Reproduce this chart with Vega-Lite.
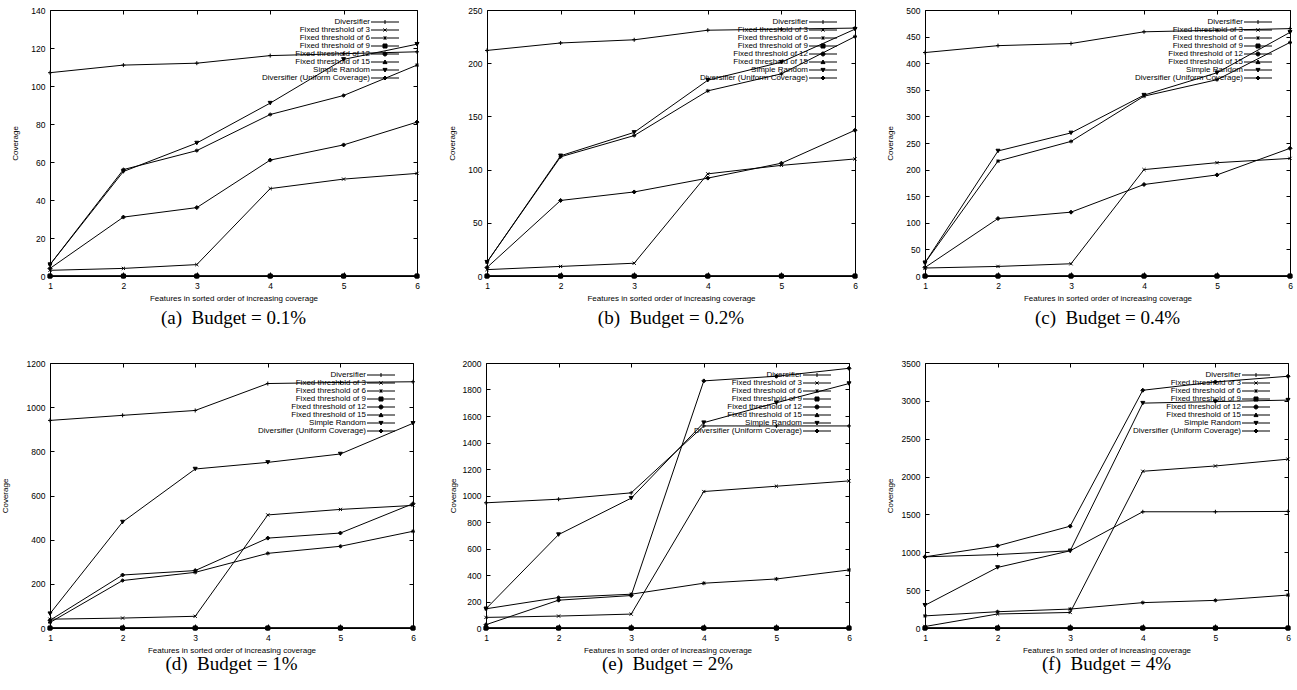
{
"$schema": "https://vega.github.io/schema/vega-lite/v6.json",
"padding": {"left": 0, "top": 5, "right": 0, "bottom": 0},
"background": "white",
"data": {"values": [
{"p":"a","s":"Diversifier","x":1,"y":107},{"p":"a","s":"Diversifier","x":2,"y":111},{"p":"a","s":"Diversifier","x":3,"y":112},{"p":"a","s":"Diversifier","x":4,"y":116},{"p":"a","s":"Diversifier","x":5,"y":117},{"p":"a","s":"Diversifier","x":6,"y":118},
{"p":"a","s":"Fixed threshold of 3","x":1,"y":3},{"p":"a","s":"Fixed threshold of 3","x":2,"y":4},{"p":"a","s":"Fixed threshold of 3","x":3,"y":6},{"p":"a","s":"Fixed threshold of 3","x":4,"y":46},{"p":"a","s":"Fixed threshold of 3","x":5,"y":51},{"p":"a","s":"Fixed threshold of 3","x":6,"y":54},
{"p":"a","s":"Fixed threshold of 6","x":1,"y":6},{"p":"a","s":"Fixed threshold of 6","x":2,"y":56},{"p":"a","s":"Fixed threshold of 6","x":3,"y":66},{"p":"a","s":"Fixed threshold of 6","x":4,"y":85},{"p":"a","s":"Fixed threshold of 6","x":5,"y":95},{"p":"a","s":"Fixed threshold of 6","x":6,"y":111},
{"p":"a","s":"Fixed threshold of 9","x":1,"y":0},{"p":"a","s":"Fixed threshold of 9","x":2,"y":0},{"p":"a","s":"Fixed threshold of 9","x":3,"y":0},{"p":"a","s":"Fixed threshold of 9","x":4,"y":0},{"p":"a","s":"Fixed threshold of 9","x":5,"y":0},{"p":"a","s":"Fixed threshold of 9","x":6,"y":0},
{"p":"a","s":"Fixed threshold of 12","x":1,"y":0},{"p":"a","s":"Fixed threshold of 12","x":2,"y":0},{"p":"a","s":"Fixed threshold of 12","x":3,"y":0},{"p":"a","s":"Fixed threshold of 12","x":4,"y":0},{"p":"a","s":"Fixed threshold of 12","x":5,"y":0},{"p":"a","s":"Fixed threshold of 12","x":6,"y":0},
{"p":"a","s":"Fixed threshold of 15","x":1,"y":0},{"p":"a","s":"Fixed threshold of 15","x":2,"y":0},{"p":"a","s":"Fixed threshold of 15","x":3,"y":0},{"p":"a","s":"Fixed threshold of 15","x":4,"y":0},{"p":"a","s":"Fixed threshold of 15","x":5,"y":0},{"p":"a","s":"Fixed threshold of 15","x":6,"y":0},
{"p":"a","s":"Simple Random","x":1,"y":6},{"p":"a","s":"Simple Random","x":2,"y":55},{"p":"a","s":"Simple Random","x":3,"y":70},{"p":"a","s":"Simple Random","x":4,"y":91},{"p":"a","s":"Simple Random","x":5,"y":114},{"p":"a","s":"Simple Random","x":6,"y":122},
{"p":"a","s":"Diversifier (Uniform Coverage)","x":1,"y":4},{"p":"a","s":"Diversifier (Uniform Coverage)","x":2,"y":31},{"p":"a","s":"Diversifier (Uniform Coverage)","x":3,"y":36},{"p":"a","s":"Diversifier (Uniform Coverage)","x":4,"y":61},{"p":"a","s":"Diversifier (Uniform Coverage)","x":5,"y":69},{"p":"a","s":"Diversifier (Uniform Coverage)","x":6,"y":81},

{"p":"b","s":"Diversifier","x":1,"y":212},{"p":"b","s":"Diversifier","x":2,"y":219},{"p":"b","s":"Diversifier","x":3,"y":222},{"p":"b","s":"Diversifier","x":4,"y":231},{"p":"b","s":"Diversifier","x":5,"y":232},{"p":"b","s":"Diversifier","x":6,"y":233},
{"p":"b","s":"Fixed threshold of 3","x":1,"y":6},{"p":"b","s":"Fixed threshold of 3","x":2,"y":9},{"p":"b","s":"Fixed threshold of 3","x":3,"y":12},{"p":"b","s":"Fixed threshold of 3","x":4,"y":96},{"p":"b","s":"Fixed threshold of 3","x":5,"y":104},{"p":"b","s":"Fixed threshold of 3","x":6,"y":110},
{"p":"b","s":"Fixed threshold of 6","x":1,"y":13},{"p":"b","s":"Fixed threshold of 6","x":2,"y":112},{"p":"b","s":"Fixed threshold of 6","x":3,"y":132},{"p":"b","s":"Fixed threshold of 6","x":4,"y":174},{"p":"b","s":"Fixed threshold of 6","x":5,"y":190},{"p":"b","s":"Fixed threshold of 6","x":6,"y":225},
{"p":"b","s":"Fixed threshold of 9","x":1,"y":0},{"p":"b","s":"Fixed threshold of 9","x":2,"y":0},{"p":"b","s":"Fixed threshold of 9","x":3,"y":0},{"p":"b","s":"Fixed threshold of 9","x":4,"y":0},{"p":"b","s":"Fixed threshold of 9","x":5,"y":0},{"p":"b","s":"Fixed threshold of 9","x":6,"y":0},
{"p":"b","s":"Fixed threshold of 12","x":1,"y":0},{"p":"b","s":"Fixed threshold of 12","x":2,"y":0},{"p":"b","s":"Fixed threshold of 12","x":3,"y":0},{"p":"b","s":"Fixed threshold of 12","x":4,"y":0},{"p":"b","s":"Fixed threshold of 12","x":5,"y":0},{"p":"b","s":"Fixed threshold of 12","x":6,"y":0},
{"p":"b","s":"Fixed threshold of 15","x":1,"y":0},{"p":"b","s":"Fixed threshold of 15","x":2,"y":0},{"p":"b","s":"Fixed threshold of 15","x":3,"y":0},{"p":"b","s":"Fixed threshold of 15","x":4,"y":0},{"p":"b","s":"Fixed threshold of 15","x":5,"y":0},{"p":"b","s":"Fixed threshold of 15","x":6,"y":0},
{"p":"b","s":"Simple Random","x":1,"y":13},{"p":"b","s":"Simple Random","x":2,"y":113},{"p":"b","s":"Simple Random","x":3,"y":135},{"p":"b","s":"Simple Random","x":4,"y":184},{"p":"b","s":"Simple Random","x":5,"y":201},{"p":"b","s":"Simple Random","x":6,"y":232},
{"p":"b","s":"Diversifier (Uniform Coverage)","x":1,"y":8},{"p":"b","s":"Diversifier (Uniform Coverage)","x":2,"y":71},{"p":"b","s":"Diversifier (Uniform Coverage)","x":3,"y":79},{"p":"b","s":"Diversifier (Uniform Coverage)","x":4,"y":92},{"p":"b","s":"Diversifier (Uniform Coverage)","x":5,"y":106},{"p":"b","s":"Diversifier (Uniform Coverage)","x":6,"y":137},

{"p":"c","s":"Diversifier","x":1,"y":420},{"p":"c","s":"Diversifier","x":2,"y":433},{"p":"c","s":"Diversifier","x":3,"y":437},{"p":"c","s":"Diversifier","x":4,"y":459},{"p":"c","s":"Diversifier","x":5,"y":462},{"p":"c","s":"Diversifier","x":6,"y":465},
{"p":"c","s":"Fixed threshold of 3","x":1,"y":15},{"p":"c","s":"Fixed threshold of 3","x":2,"y":18},{"p":"c","s":"Fixed threshold of 3","x":3,"y":23},{"p":"c","s":"Fixed threshold of 3","x":4,"y":200},{"p":"c","s":"Fixed threshold of 3","x":5,"y":213},{"p":"c","s":"Fixed threshold of 3","x":6,"y":221},
{"p":"c","s":"Fixed threshold of 6","x":1,"y":25},{"p":"c","s":"Fixed threshold of 6","x":2,"y":216},{"p":"c","s":"Fixed threshold of 6","x":3,"y":253},{"p":"c","s":"Fixed threshold of 6","x":4,"y":338},{"p":"c","s":"Fixed threshold of 6","x":5,"y":369},{"p":"c","s":"Fixed threshold of 6","x":6,"y":439},
{"p":"c","s":"Fixed threshold of 9","x":1,"y":0},{"p":"c","s":"Fixed threshold of 9","x":2,"y":0},{"p":"c","s":"Fixed threshold of 9","x":3,"y":0},{"p":"c","s":"Fixed threshold of 9","x":4,"y":0},{"p":"c","s":"Fixed threshold of 9","x":5,"y":0},{"p":"c","s":"Fixed threshold of 9","x":6,"y":0},
{"p":"c","s":"Fixed threshold of 12","x":1,"y":0},{"p":"c","s":"Fixed threshold of 12","x":2,"y":0},{"p":"c","s":"Fixed threshold of 12","x":3,"y":0},{"p":"c","s":"Fixed threshold of 12","x":4,"y":0},{"p":"c","s":"Fixed threshold of 12","x":5,"y":0},{"p":"c","s":"Fixed threshold of 12","x":6,"y":0},
{"p":"c","s":"Fixed threshold of 15","x":1,"y":0},{"p":"c","s":"Fixed threshold of 15","x":2,"y":0},{"p":"c","s":"Fixed threshold of 15","x":3,"y":0},{"p":"c","s":"Fixed threshold of 15","x":4,"y":0},{"p":"c","s":"Fixed threshold of 15","x":5,"y":0},{"p":"c","s":"Fixed threshold of 15","x":6,"y":0},
{"p":"c","s":"Simple Random","x":1,"y":25},{"p":"c","s":"Simple Random","x":2,"y":235},{"p":"c","s":"Simple Random","x":3,"y":269},{"p":"c","s":"Simple Random","x":4,"y":340},{"p":"c","s":"Simple Random","x":5,"y":382},{"p":"c","s":"Simple Random","x":6,"y":458},
{"p":"c","s":"Diversifier (Uniform Coverage)","x":1,"y":16},{"p":"c","s":"Diversifier (Uniform Coverage)","x":2,"y":108},{"p":"c","s":"Diversifier (Uniform Coverage)","x":3,"y":120},{"p":"c","s":"Diversifier (Uniform Coverage)","x":4,"y":172},{"p":"c","s":"Diversifier (Uniform Coverage)","x":5,"y":190},{"p":"c","s":"Diversifier (Uniform Coverage)","x":6,"y":240},

{"p":"d","s":"Diversifier","x":1,"y":940},{"p":"d","s":"Diversifier","x":2,"y":963},{"p":"d","s":"Diversifier","x":3,"y":985},{"p":"d","s":"Diversifier","x":4,"y":1107},{"p":"d","s":"Diversifier","x":5,"y":1112},{"p":"d","s":"Diversifier","x":6,"y":1115},
{"p":"d","s":"Fixed threshold of 3","x":1,"y":40},{"p":"d","s":"Fixed threshold of 3","x":2,"y":45},{"p":"d","s":"Fixed threshold of 3","x":3,"y":53},{"p":"d","s":"Fixed threshold of 3","x":4,"y":512},{"p":"d","s":"Fixed threshold of 3","x":5,"y":537},{"p":"d","s":"Fixed threshold of 3","x":6,"y":555},
{"p":"d","s":"Fixed threshold of 6","x":1,"y":25},{"p":"d","s":"Fixed threshold of 6","x":2,"y":215},{"p":"d","s":"Fixed threshold of 6","x":3,"y":252},{"p":"d","s":"Fixed threshold of 6","x":4,"y":338},{"p":"d","s":"Fixed threshold of 6","x":5,"y":370},{"p":"d","s":"Fixed threshold of 6","x":6,"y":438},
{"p":"d","s":"Fixed threshold of 9","x":1,"y":0},{"p":"d","s":"Fixed threshold of 9","x":2,"y":0},{"p":"d","s":"Fixed threshold of 9","x":3,"y":0},{"p":"d","s":"Fixed threshold of 9","x":4,"y":0},{"p":"d","s":"Fixed threshold of 9","x":5,"y":0},{"p":"d","s":"Fixed threshold of 9","x":6,"y":0},
{"p":"d","s":"Fixed threshold of 12","x":1,"y":0},{"p":"d","s":"Fixed threshold of 12","x":2,"y":0},{"p":"d","s":"Fixed threshold of 12","x":3,"y":0},{"p":"d","s":"Fixed threshold of 12","x":4,"y":0},{"p":"d","s":"Fixed threshold of 12","x":5,"y":0},{"p":"d","s":"Fixed threshold of 12","x":6,"y":0},
{"p":"d","s":"Fixed threshold of 15","x":1,"y":0},{"p":"d","s":"Fixed threshold of 15","x":2,"y":0},{"p":"d","s":"Fixed threshold of 15","x":3,"y":0},{"p":"d","s":"Fixed threshold of 15","x":4,"y":0},{"p":"d","s":"Fixed threshold of 15","x":5,"y":0},{"p":"d","s":"Fixed threshold of 15","x":6,"y":0},
{"p":"d","s":"Simple Random","x":1,"y":65},{"p":"d","s":"Simple Random","x":2,"y":480},{"p":"d","s":"Simple Random","x":3,"y":720},{"p":"d","s":"Simple Random","x":4,"y":750},{"p":"d","s":"Simple Random","x":5,"y":788},{"p":"d","s":"Simple Random","x":6,"y":927},
{"p":"d","s":"Diversifier (Uniform Coverage)","x":1,"y":35},{"p":"d","s":"Diversifier (Uniform Coverage)","x":2,"y":240},{"p":"d","s":"Diversifier (Uniform Coverage)","x":3,"y":260},{"p":"d","s":"Diversifier (Uniform Coverage)","x":4,"y":407},{"p":"d","s":"Diversifier (Uniform Coverage)","x":5,"y":430},{"p":"d","s":"Diversifier (Uniform Coverage)","x":6,"y":563},

{"p":"e","s":"Diversifier","x":1,"y":945},{"p":"e","s":"Diversifier","x":2,"y":972},{"p":"e","s":"Diversifier","x":3,"y":1020},{"p":"e","s":"Diversifier","x":4,"y":1525},{"p":"e","s":"Diversifier","x":5,"y":1525},{"p":"e","s":"Diversifier","x":6,"y":1525},
{"p":"e","s":"Fixed threshold of 3","x":1,"y":80},{"p":"e","s":"Fixed threshold of 3","x":2,"y":90},{"p":"e","s":"Fixed threshold of 3","x":3,"y":105},{"p":"e","s":"Fixed threshold of 3","x":4,"y":1030},{"p":"e","s":"Fixed threshold of 3","x":5,"y":1070},{"p":"e","s":"Fixed threshold of 3","x":6,"y":1110},
{"p":"e","s":"Fixed threshold of 6","x":1,"y":145},{"p":"e","s":"Fixed threshold of 6","x":2,"y":230},{"p":"e","s":"Fixed threshold of 6","x":3,"y":255},{"p":"e","s":"Fixed threshold of 6","x":4,"y":338},{"p":"e","s":"Fixed threshold of 6","x":5,"y":370},{"p":"e","s":"Fixed threshold of 6","x":6,"y":438},
{"p":"e","s":"Fixed threshold of 9","x":1,"y":0},{"p":"e","s":"Fixed threshold of 9","x":2,"y":0},{"p":"e","s":"Fixed threshold of 9","x":3,"y":0},{"p":"e","s":"Fixed threshold of 9","x":4,"y":0},{"p":"e","s":"Fixed threshold of 9","x":5,"y":0},{"p":"e","s":"Fixed threshold of 9","x":6,"y":0},
{"p":"e","s":"Fixed threshold of 12","x":1,"y":0},{"p":"e","s":"Fixed threshold of 12","x":2,"y":0},{"p":"e","s":"Fixed threshold of 12","x":3,"y":0},{"p":"e","s":"Fixed threshold of 12","x":4,"y":0},{"p":"e","s":"Fixed threshold of 12","x":5,"y":0},{"p":"e","s":"Fixed threshold of 12","x":6,"y":0},
{"p":"e","s":"Fixed threshold of 15","x":1,"y":0},{"p":"e","s":"Fixed threshold of 15","x":2,"y":0},{"p":"e","s":"Fixed threshold of 15","x":3,"y":0},{"p":"e","s":"Fixed threshold of 15","x":4,"y":0},{"p":"e","s":"Fixed threshold of 15","x":5,"y":0},{"p":"e","s":"Fixed threshold of 15","x":6,"y":0},
{"p":"e","s":"Simple Random","x":1,"y":145},{"p":"e","s":"Simple Random","x":2,"y":705},{"p":"e","s":"Simple Random","x":3,"y":980},{"p":"e","s":"Simple Random","x":4,"y":1550},{"p":"e","s":"Simple Random","x":5,"y":1700},{"p":"e","s":"Simple Random","x":6,"y":1845},
{"p":"e","s":"Diversifier (Uniform Coverage)","x":1,"y":25},{"p":"e","s":"Diversifier (Uniform Coverage)","x":2,"y":210},{"p":"e","s":"Diversifier (Uniform Coverage)","x":3,"y":245},{"p":"e","s":"Diversifier (Uniform Coverage)","x":4,"y":1865},{"p":"e","s":"Diversifier (Uniform Coverage)","x":5,"y":1900},{"p":"e","s":"Diversifier (Uniform Coverage)","x":6,"y":1960},

{"p":"f","s":"Diversifier","x":1,"y":940},{"p":"f","s":"Diversifier","x":2,"y":970},{"p":"f","s":"Diversifier","x":3,"y":1020},{"p":"f","s":"Diversifier","x":4,"y":1535},{"p":"f","s":"Diversifier","x":5,"y":1535},{"p":"f","s":"Diversifier","x":6,"y":1540},
{"p":"f","s":"Fixed threshold of 3","x":1,"y":20},{"p":"f","s":"Fixed threshold of 3","x":2,"y":185},{"p":"f","s":"Fixed threshold of 3","x":3,"y":205},{"p":"f","s":"Fixed threshold of 3","x":4,"y":2070},{"p":"f","s":"Fixed threshold of 3","x":5,"y":2140},{"p":"f","s":"Fixed threshold of 3","x":6,"y":2230},
{"p":"f","s":"Fixed threshold of 6","x":1,"y":160},{"p":"f","s":"Fixed threshold of 6","x":2,"y":215},{"p":"f","s":"Fixed threshold of 6","x":3,"y":250},{"p":"f","s":"Fixed threshold of 6","x":4,"y":335},{"p":"f","s":"Fixed threshold of 6","x":5,"y":365},{"p":"f","s":"Fixed threshold of 6","x":6,"y":435},
{"p":"f","s":"Fixed threshold of 9","x":1,"y":0},{"p":"f","s":"Fixed threshold of 9","x":2,"y":0},{"p":"f","s":"Fixed threshold of 9","x":3,"y":0},{"p":"f","s":"Fixed threshold of 9","x":4,"y":0},{"p":"f","s":"Fixed threshold of 9","x":5,"y":0},{"p":"f","s":"Fixed threshold of 9","x":6,"y":0},
{"p":"f","s":"Fixed threshold of 12","x":1,"y":0},{"p":"f","s":"Fixed threshold of 12","x":2,"y":0},{"p":"f","s":"Fixed threshold of 12","x":3,"y":0},{"p":"f","s":"Fixed threshold of 12","x":4,"y":0},{"p":"f","s":"Fixed threshold of 12","x":5,"y":0},{"p":"f","s":"Fixed threshold of 12","x":6,"y":0},
{"p":"f","s":"Fixed threshold of 15","x":1,"y":0},{"p":"f","s":"Fixed threshold of 15","x":2,"y":0},{"p":"f","s":"Fixed threshold of 15","x":3,"y":0},{"p":"f","s":"Fixed threshold of 15","x":4,"y":0},{"p":"f","s":"Fixed threshold of 15","x":5,"y":0},{"p":"f","s":"Fixed threshold of 15","x":6,"y":0},
{"p":"f","s":"Simple Random","x":1,"y":300},{"p":"f","s":"Simple Random","x":2,"y":800},{"p":"f","s":"Simple Random","x":3,"y":1020},{"p":"f","s":"Simple Random","x":4,"y":2970},{"p":"f","s":"Simple Random","x":5,"y":2990},{"p":"f","s":"Simple Random","x":6,"y":3010},
{"p":"f","s":"Diversifier (Uniform Coverage)","x":1,"y":940},{"p":"f","s":"Diversifier (Uniform Coverage)","x":2,"y":1085},{"p":"f","s":"Diversifier (Uniform Coverage)","x":3,"y":1345},{"p":"f","s":"Diversifier (Uniform Coverage)","x":4,"y":3140},{"p":"f","s":"Diversifier (Uniform Coverage)","x":5,"y":3250},{"p":"f","s":"Diversifier (Uniform Coverage)","x":6,"y":3325}
]},
"columns": 3,
"align": "none",
"spacing": {"row": 30, "column": 26},
"resolve": {"scale": {"shape": "independent"}, "legend": {"shape": "independent"}},
"concat": [
{"width": 367, "height": 266,
 "title": {"text": "(a)\u00a0\u00a0Budget\u00a0=\u00a00.1%"},
 "transform": [{"filter": "datum.p === 'a'"}],
 "layer": [
  {"mark": {"type": "line", "color": "black", "strokeWidth": 1},
   "encoding": {
    "x": {"field": "x", "type": "quantitative", "scale": {"domain": [1, 6], "nice": false, "zero": false}, "axis": {"orient": "bottom", "values": [1,2,3,4,5,6], "format": "d", "title": "Features in sorted order of increasing coverage"}},
    "y": {"field": "y", "type": "quantitative", "scale": {"domain": [0, 140], "nice": false}, "axis": {"orient": "left", "format": "d", "values": [0,20,40,60,80,100,120,140], "title": "Coverage"}},
    "detail": {"field": "s"}}},
  {"mark": {"type": "point", "filled": true, "color": "black", "stroke": "black", "strokeWidth": 1, "size": 16, "opacity": 1,
    "shape": {"expr": "datum.s === 'Diversifier' ? 'M-1,0L1,0M0,-1L0,1' : datum.s === 'Fixed threshold of 3' ? 'M-0.8,-0.8L0.8,0.8M-0.8,0.8L0.8,-0.8' : datum.s === 'Fixed threshold of 6' ? 'M-1,0L1,0M0,-1L0,1M-0.7,-0.7L0.7,0.7M-0.7,0.7L0.7,-0.7' : datum.s === 'Fixed threshold of 9' ? 'square' : datum.s === 'Fixed threshold of 12' ? 'circle' : datum.s === 'Fixed threshold of 15' ? 'triangle-up' : datum.s === 'Simple Random' ? 'triangle-down' : 'diamond'"}},
   "encoding": {
    "x": {"field": "x", "type": "quantitative", "axis": {"orient": "top", "values": [1,2,3,4,5,6], "labels": false, "title": null}},
    "y": {"field": "y", "type": "quantitative", "axis": {"orient": "right", "values": [0,20,40,60,80,100,120,140], "labels": false, "title": null}}}},
  {"transform": [{"filter": "datum.x > 100"}],
   "mark": {"type": "point", "filled": false, "fill": "black", "color": "black", "stroke": "black", "strokeWidth": 1, "size": 16, "opacity": 1},
   "encoding": {
    "x": {"field": "x", "type": "quantitative", "axis": null},
    "y": {"field": "y", "type": "quantitative", "axis": null},
    "shape": {"field": "s", "type": "nominal",
     "legend": {"title": null, "encode": {"symbols": {"stroke": {"value": "black"}, "fill": {"value": "black"}, "strokeWidth": {"value": 1}, "opacity": {"value": 1}}}},
     "scale": {"domain": ["Diversifier","Fixed threshold of 3","Fixed threshold of 6","Fixed threshold of 9","Fixed threshold of 12","Fixed threshold of 15","Simple Random","Diversifier (Uniform Coverage)"],
               "range": ["M-19,0L-5,0M-12,-1L-12,1","M-19,0L-5,0M-12.8,-0.8L-11.2,0.8M-12.8,0.8L-11.2,-0.8","M-19,0L-5,0M-12,-1L-12,1M-12.7,-0.7L-11.3,0.7M-12.7,0.7L-11.3,-0.7","M-19,0L-5,0M-13,-1L-11,-1L-11,1L-13,1Z","M-19,0L-5,0M-13,0A1,1,0,1,1,-11,0A1,1,0,1,1,-13,0Z","M-19,0L-5,0M-12,-1L-11,0.8L-13,0.8Z","M-19,0L-5,0M-12,1L-11,-0.8L-13,-0.8Z","M-19,0L-5,0M-12,-1L-11,0L-12,1L-13,0Z"]}}}}
 ],
 "resolve": {"axis": {"x": "independent", "y": "independent"}}
},
{"width": 368, "height": 266,
 "title": {"text": "(b)\u00a0\u00a0Budget\u00a0=\u00a00.2%"},
 "transform": [{"filter": "datum.p === 'b'"}],
 "layer": [
  {"mark": {"type": "line", "color": "black", "strokeWidth": 1},
   "encoding": {
    "x": {"field": "x", "type": "quantitative", "scale": {"domain": [1, 6], "nice": false, "zero": false}, "axis": {"orient": "bottom", "values": [1,2,3,4,5,6], "format": "d", "title": "Features in sorted order of increasing coverage"}},
    "y": {"field": "y", "type": "quantitative", "scale": {"domain": [0, 250], "nice": false}, "axis": {"orient": "left", "format": "d", "values": [0,50,100,150,200,250], "title": "Coverage"}},
    "detail": {"field": "s"}}},
  {"mark": {"type": "point", "filled": true, "color": "black", "stroke": "black", "strokeWidth": 1, "size": 16, "opacity": 1,
    "shape": {"expr": "datum.s === 'Diversifier' ? 'M-1,0L1,0M0,-1L0,1' : datum.s === 'Fixed threshold of 3' ? 'M-0.8,-0.8L0.8,0.8M-0.8,0.8L0.8,-0.8' : datum.s === 'Fixed threshold of 6' ? 'M-1,0L1,0M0,-1L0,1M-0.7,-0.7L0.7,0.7M-0.7,0.7L0.7,-0.7' : datum.s === 'Fixed threshold of 9' ? 'square' : datum.s === 'Fixed threshold of 12' ? 'circle' : datum.s === 'Fixed threshold of 15' ? 'triangle-up' : datum.s === 'Simple Random' ? 'triangle-down' : 'diamond'"}},
   "encoding": {
    "x": {"field": "x", "type": "quantitative", "axis": {"orient": "top", "values": [1,2,3,4,5,6], "labels": false, "title": null}},
    "y": {"field": "y", "type": "quantitative", "axis": {"orient": "right", "values": [0,50,100,150,200,250], "labels": false, "title": null}}}},
  {"transform": [{"filter": "datum.x > 100"}],
   "mark": {"type": "point", "filled": false, "fill": "black", "color": "black", "stroke": "black", "strokeWidth": 1, "size": 16, "opacity": 1},
   "encoding": {
    "x": {"field": "x", "type": "quantitative", "axis": null},
    "y": {"field": "y", "type": "quantitative", "axis": null},
    "shape": {"field": "s", "type": "nominal",
     "legend": {"title": null, "encode": {"symbols": {"stroke": {"value": "black"}, "fill": {"value": "black"}, "strokeWidth": {"value": 1}, "opacity": {"value": 1}}}},
     "scale": {"domain": ["Diversifier","Fixed threshold of 3","Fixed threshold of 6","Fixed threshold of 9","Fixed threshold of 12","Fixed threshold of 15","Simple Random","Diversifier (Uniform Coverage)"],
               "range": ["M-19,0L-5,0M-12,-1L-12,1","M-19,0L-5,0M-12.8,-0.8L-11.2,0.8M-12.8,0.8L-11.2,-0.8","M-19,0L-5,0M-12,-1L-12,1M-12.7,-0.7L-11.3,0.7M-12.7,0.7L-11.3,-0.7","M-19,0L-5,0M-13,-1L-11,-1L-11,1L-13,1Z","M-19,0L-5,0M-13,0A1,1,0,1,1,-11,0A1,1,0,1,1,-13,0Z","M-19,0L-5,0M-12,-1L-11,0.8L-13,0.8Z","M-19,0L-5,0M-12,1L-11,-0.8L-13,-0.8Z","M-19,0L-5,0M-12,-1L-11,0L-12,1L-13,0Z"]}}}}
 ],
 "resolve": {"axis": {"x": "independent", "y": "independent"}}
},
{"width": 365, "height": 266,
 "title": {"text": "(c)\u00a0\u00a0Budget\u00a0=\u00a00.4%"},
 "transform": [{"filter": "datum.p === 'c'"}],
 "layer": [
  {"mark": {"type": "line", "color": "black", "strokeWidth": 1},
   "encoding": {
    "x": {"field": "x", "type": "quantitative", "scale": {"domain": [1, 6], "nice": false, "zero": false}, "axis": {"orient": "bottom", "values": [1,2,3,4,5,6], "format": "d", "title": "Features in sorted order of increasing coverage"}},
    "y": {"field": "y", "type": "quantitative", "scale": {"domain": [0, 500], "nice": false}, "axis": {"orient": "left", "format": "d", "values": [0,50,100,150,200,250,300,350,400,450,500], "title": "Coverage"}},
    "detail": {"field": "s"}}},
  {"mark": {"type": "point", "filled": true, "color": "black", "stroke": "black", "strokeWidth": 1, "size": 16, "opacity": 1,
    "shape": {"expr": "datum.s === 'Diversifier' ? 'M-1,0L1,0M0,-1L0,1' : datum.s === 'Fixed threshold of 3' ? 'M-0.8,-0.8L0.8,0.8M-0.8,0.8L0.8,-0.8' : datum.s === 'Fixed threshold of 6' ? 'M-1,0L1,0M0,-1L0,1M-0.7,-0.7L0.7,0.7M-0.7,0.7L0.7,-0.7' : datum.s === 'Fixed threshold of 9' ? 'square' : datum.s === 'Fixed threshold of 12' ? 'circle' : datum.s === 'Fixed threshold of 15' ? 'triangle-up' : datum.s === 'Simple Random' ? 'triangle-down' : 'diamond'"}},
   "encoding": {
    "x": {"field": "x", "type": "quantitative", "axis": {"orient": "top", "values": [1,2,3,4,5,6], "labels": false, "title": null}},
    "y": {"field": "y", "type": "quantitative", "axis": {"orient": "right", "values": [0,50,100,150,200,250,300,350,400,450,500], "labels": false, "title": null}}}},
  {"transform": [{"filter": "datum.x > 100"}],
   "mark": {"type": "point", "filled": false, "fill": "black", "color": "black", "stroke": "black", "strokeWidth": 1, "size": 16, "opacity": 1},
   "encoding": {
    "x": {"field": "x", "type": "quantitative", "axis": null},
    "y": {"field": "y", "type": "quantitative", "axis": null},
    "shape": {"field": "s", "type": "nominal",
     "legend": {"title": null, "encode": {"symbols": {"stroke": {"value": "black"}, "fill": {"value": "black"}, "strokeWidth": {"value": 1}, "opacity": {"value": 1}}}},
     "scale": {"domain": ["Diversifier","Fixed threshold of 3","Fixed threshold of 6","Fixed threshold of 9","Fixed threshold of 12","Fixed threshold of 15","Simple Random","Diversifier (Uniform Coverage)"],
               "range": ["M-19,0L-5,0M-12,-1L-12,1","M-19,0L-5,0M-12.8,-0.8L-11.2,0.8M-12.8,0.8L-11.2,-0.8","M-19,0L-5,0M-12,-1L-12,1M-12.7,-0.7L-11.3,0.7M-12.7,0.7L-11.3,-0.7","M-19,0L-5,0M-13,-1L-11,-1L-11,1L-13,1Z","M-19,0L-5,0M-13,0A1,1,0,1,1,-11,0A1,1,0,1,1,-13,0Z","M-19,0L-5,0M-12,-1L-11,0.8L-13,0.8Z","M-19,0L-5,0M-12,1L-11,-0.8L-13,-0.8Z","M-19,0L-5,0M-12,-1L-11,0L-12,1L-13,0Z"]}}}}
 ],
 "resolve": {"axis": {"x": "independent", "y": "independent"}}
},
{"width": 363, "height": 265,
 "title": {"text": "(d)\u00a0\u00a0Budget\u00a0=\u00a01%", "offset": 0},
 "transform": [{"filter": "datum.p === 'd'"}],
 "layer": [
  {"mark": {"type": "line", "color": "black", "strokeWidth": 1},
   "encoding": {
    "x": {"field": "x", "type": "quantitative", "scale": {"domain": [1, 6], "nice": false, "zero": false}, "axis": {"orient": "bottom", "values": [1,2,3,4,5,6], "format": "d", "title": "Features in sorted order of increasing coverage"}},
    "y": {"field": "y", "type": "quantitative", "scale": {"domain": [0, 1200], "nice": false}, "axis": {"orient": "left", "format": "d", "values": [0,200,400,600,800,1000,1200], "title": "Coverage", "titlePadding": 17}},
    "detail": {"field": "s"}}},
  {"mark": {"type": "point", "filled": true, "color": "black", "stroke": "black", "strokeWidth": 1, "size": 16, "opacity": 1,
    "shape": {"expr": "datum.s === 'Diversifier' ? 'M-1,0L1,0M0,-1L0,1' : datum.s === 'Fixed threshold of 3' ? 'M-0.8,-0.8L0.8,0.8M-0.8,0.8L0.8,-0.8' : datum.s === 'Fixed threshold of 6' ? 'M-1,0L1,0M0,-1L0,1M-0.7,-0.7L0.7,0.7M-0.7,0.7L0.7,-0.7' : datum.s === 'Fixed threshold of 9' ? 'square' : datum.s === 'Fixed threshold of 12' ? 'circle' : datum.s === 'Fixed threshold of 15' ? 'triangle-up' : datum.s === 'Simple Random' ? 'triangle-down' : 'diamond'"}},
   "encoding": {
    "x": {"field": "x", "type": "quantitative", "axis": {"orient": "top", "values": [1,2,3,4,5,6], "labels": false, "title": null}},
    "y": {"field": "y", "type": "quantitative", "axis": {"orient": "right", "values": [0,200,400,600,800,1000,1200], "labels": false, "title": null}}}},
  {"transform": [{"filter": "datum.x > 100"}],
   "mark": {"type": "point", "filled": false, "fill": "black", "color": "black", "stroke": "black", "strokeWidth": 1, "size": 16, "opacity": 1},
   "encoding": {
    "x": {"field": "x", "type": "quantitative", "axis": null},
    "y": {"field": "y", "type": "quantitative", "axis": null},
    "shape": {"field": "s", "type": "nominal",
     "legend": {"title": null, "encode": {"symbols": {"stroke": {"value": "black"}, "fill": {"value": "black"}, "strokeWidth": {"value": 1}, "opacity": {"value": 1}}}},
     "scale": {"domain": ["Diversifier","Fixed threshold of 3","Fixed threshold of 6","Fixed threshold of 9","Fixed threshold of 12","Fixed threshold of 15","Simple Random","Diversifier (Uniform Coverage)"],
               "range": ["M-19,0L-5,0M-12,-1L-12,1","M-19,0L-5,0M-12.8,-0.8L-11.2,0.8M-12.8,0.8L-11.2,-0.8","M-19,0L-5,0M-12,-1L-12,1M-12.7,-0.7L-11.3,0.7M-12.7,0.7L-11.3,-0.7","M-19,0L-5,0M-13,-1L-11,-1L-11,1L-13,1Z","M-19,0L-5,0M-13,0A1,1,0,1,1,-11,0A1,1,0,1,1,-13,0Z","M-19,0L-5,0M-12,-1L-11,0.8L-13,0.8Z","M-19,0L-5,0M-12,1L-11,-0.8L-13,-0.8Z","M-19,0L-5,0M-12,-1L-11,0L-12,1L-13,0Z"]}}}}
 ],
 "resolve": {"axis": {"x": "independent", "y": "independent"}}
},
{"width": 363, "height": 265,
 "title": {"text": "(e)\u00a0\u00a0Budget\u00a0=\u00a02%", "offset": 0},
 "transform": [{"filter": "datum.p === 'e'"}],
 "layer": [
  {"mark": {"type": "line", "color": "black", "strokeWidth": 1},
   "encoding": {
    "x": {"field": "x", "type": "quantitative", "scale": {"domain": [1, 6], "nice": false, "zero": false}, "axis": {"orient": "bottom", "values": [1,2,3,4,5,6], "format": "d", "title": "Features in sorted order of increasing coverage"}},
    "y": {"field": "y", "type": "quantitative", "scale": {"domain": [0, 2000], "nice": false}, "axis": {"orient": "left", "format": "d", "values": [0,200,400,600,800,1000,1200,1400,1600,1800,2000], "title": "Coverage", "titlePadding": 5}},
    "detail": {"field": "s"}}},
  {"mark": {"type": "point", "filled": true, "color": "black", "stroke": "black", "strokeWidth": 1, "size": 16, "opacity": 1,
    "shape": {"expr": "datum.s === 'Diversifier' ? 'M-1,0L1,0M0,-1L0,1' : datum.s === 'Fixed threshold of 3' ? 'M-0.8,-0.8L0.8,0.8M-0.8,0.8L0.8,-0.8' : datum.s === 'Fixed threshold of 6' ? 'M-1,0L1,0M0,-1L0,1M-0.7,-0.7L0.7,0.7M-0.7,0.7L0.7,-0.7' : datum.s === 'Fixed threshold of 9' ? 'square' : datum.s === 'Fixed threshold of 12' ? 'circle' : datum.s === 'Fixed threshold of 15' ? 'triangle-up' : datum.s === 'Simple Random' ? 'triangle-down' : 'diamond'"}},
   "encoding": {
    "x": {"field": "x", "type": "quantitative", "axis": {"orient": "top", "values": [1,2,3,4,5,6], "labels": false, "title": null}},
    "y": {"field": "y", "type": "quantitative", "axis": {"orient": "right", "values": [0,200,400,600,800,1000,1200,1400,1600,1800,2000], "labels": false, "title": null}}}},
  {"transform": [{"filter": "datum.x > 100"}],
   "mark": {"type": "point", "filled": false, "fill": "black", "color": "black", "stroke": "black", "strokeWidth": 1, "size": 16, "opacity": 1},
   "encoding": {
    "x": {"field": "x", "type": "quantitative", "axis": null},
    "y": {"field": "y", "type": "quantitative", "axis": null},
    "shape": {"field": "s", "type": "nominal",
     "legend": {"title": null, "encode": {"symbols": {"stroke": {"value": "black"}, "fill": {"value": "black"}, "strokeWidth": {"value": 1}, "opacity": {"value": 1}}}},
     "scale": {"domain": ["Diversifier","Fixed threshold of 3","Fixed threshold of 6","Fixed threshold of 9","Fixed threshold of 12","Fixed threshold of 15","Simple Random","Diversifier (Uniform Coverage)"],
               "range": ["M-19,0L-5,0M-12,-1L-12,1","M-19,0L-5,0M-12.8,-0.8L-11.2,0.8M-12.8,0.8L-11.2,-0.8","M-19,0L-5,0M-12,-1L-12,1M-12.7,-0.7L-11.3,0.7M-12.7,0.7L-11.3,-0.7","M-19,0L-5,0M-13,-1L-11,-1L-11,1L-13,1Z","M-19,0L-5,0M-13,0A1,1,0,1,1,-11,0A1,1,0,1,1,-13,0Z","M-19,0L-5,0M-12,-1L-11,0.8L-13,0.8Z","M-19,0L-5,0M-12,1L-11,-0.8L-13,-0.8Z","M-19,0L-5,0M-12,-1L-11,0L-12,1L-13,0Z"]}}}}
 ],
 "resolve": {"axis": {"x": "independent", "y": "independent"}}
},
{"width": 363, "height": 265,
 "title": {"text": "(f)\u00a0\u00a0Budget\u00a0=\u00a04%", "offset": 0},
 "transform": [{"filter": "datum.p === 'f'"}],
 "layer": [
  {"mark": {"type": "line", "color": "black", "strokeWidth": 1},
   "encoding": {
    "x": {"field": "x", "type": "quantitative", "scale": {"domain": [1, 6], "nice": false, "zero": false}, "axis": {"orient": "bottom", "values": [1,2,3,4,5,6], "format": "d", "title": "Features in sorted order of increasing coverage"}},
    "y": {"field": "y", "type": "quantitative", "scale": {"domain": [0, 3500], "nice": false}, "axis": {"orient": "left", "format": "d", "values": [0,500,1000,1500,2000,2500,3000,3500], "title": "Coverage", "titlePadding": 7}},
    "detail": {"field": "s"}}},
  {"mark": {"type": "point", "filled": true, "color": "black", "stroke": "black", "strokeWidth": 1, "size": 16, "opacity": 1,
    "shape": {"expr": "datum.s === 'Diversifier' ? 'M-1,0L1,0M0,-1L0,1' : datum.s === 'Fixed threshold of 3' ? 'M-0.8,-0.8L0.8,0.8M-0.8,0.8L0.8,-0.8' : datum.s === 'Fixed threshold of 6' ? 'M-1,0L1,0M0,-1L0,1M-0.7,-0.7L0.7,0.7M-0.7,0.7L0.7,-0.7' : datum.s === 'Fixed threshold of 9' ? 'square' : datum.s === 'Fixed threshold of 12' ? 'circle' : datum.s === 'Fixed threshold of 15' ? 'triangle-up' : datum.s === 'Simple Random' ? 'triangle-down' : 'diamond'"}},
   "encoding": {
    "x": {"field": "x", "type": "quantitative", "axis": {"orient": "top", "values": [1,2,3,4,5,6], "labels": false, "title": null}},
    "y": {"field": "y", "type": "quantitative", "axis": {"orient": "right", "values": [0,500,1000,1500,2000,2500,3000,3500], "labels": false, "title": null}}}},
  {"transform": [{"filter": "datum.x > 100"}],
   "mark": {"type": "point", "filled": false, "fill": "black", "color": "black", "stroke": "black", "strokeWidth": 1, "size": 16, "opacity": 1},
   "encoding": {
    "x": {"field": "x", "type": "quantitative", "axis": null},
    "y": {"field": "y", "type": "quantitative", "axis": null},
    "shape": {"field": "s", "type": "nominal",
     "legend": {"title": null, "encode": {"symbols": {"stroke": {"value": "black"}, "fill": {"value": "black"}, "strokeWidth": {"value": 1}, "opacity": {"value": 1}}}},
     "scale": {"domain": ["Diversifier","Fixed threshold of 3","Fixed threshold of 6","Fixed threshold of 9","Fixed threshold of 12","Fixed threshold of 15","Simple Random","Diversifier (Uniform Coverage)"],
               "range": ["M-19,0L-5,0M-12,-1L-12,1","M-19,0L-5,0M-12.8,-0.8L-11.2,0.8M-12.8,0.8L-11.2,-0.8","M-19,0L-5,0M-12,-1L-12,1M-12.7,-0.7L-11.3,0.7M-12.7,0.7L-11.3,-0.7","M-19,0L-5,0M-13,-1L-11,-1L-11,1L-13,1Z","M-19,0L-5,0M-13,0A1,1,0,1,1,-11,0A1,1,0,1,1,-13,0Z","M-19,0L-5,0M-12,-1L-11,0.8L-13,0.8Z","M-19,0L-5,0M-12,1L-11,-0.8L-13,-0.8Z","M-19,0L-5,0M-12,-1L-11,0L-12,1L-13,0Z"]}}}}
 ],
 "resolve": {"axis": {"x": "independent", "y": "independent"}}
}
],
"config": {
 "font": "Liberation Sans",
 "view": {"stroke": "black", "strokeWidth": 1},
 "axis": {"grid": false, "domain": false, "tickColor": "black", "tickSize": -4, "tickWidth": 1, "labelFont": "Liberation Sans", "labelFontSize": 8.5, "labelColor": "black", "labelPadding": 9, "labelFlush": false, "labelOverlap": false, "titleFont": "Liberation Sans", "titleFontSize": 8, "titleFontWeight": "normal", "titleColor": "black"},
 "axisY": {"titlePadding": 11},
 "axisX": {"titlePadding": 5},
 "legend": {"orient": "top-right", "offset": 8, "padding": 0, "rowPadding": -1, "labelFont": "Liberation Sans", "labelFontSize": 8, "labelColor": "black", "labelAlign": "right", "labelOffset": -43, "labelLimit": 0, "symbolSize": 16, "symbolStrokeWidth": 1},
 "title": {"orient": "bottom", "font": "Liberation Serif", "fontSize": 19, "fontWeight": "normal", "color": "black", "offset": 6, "anchor": "middle"}
}
}
